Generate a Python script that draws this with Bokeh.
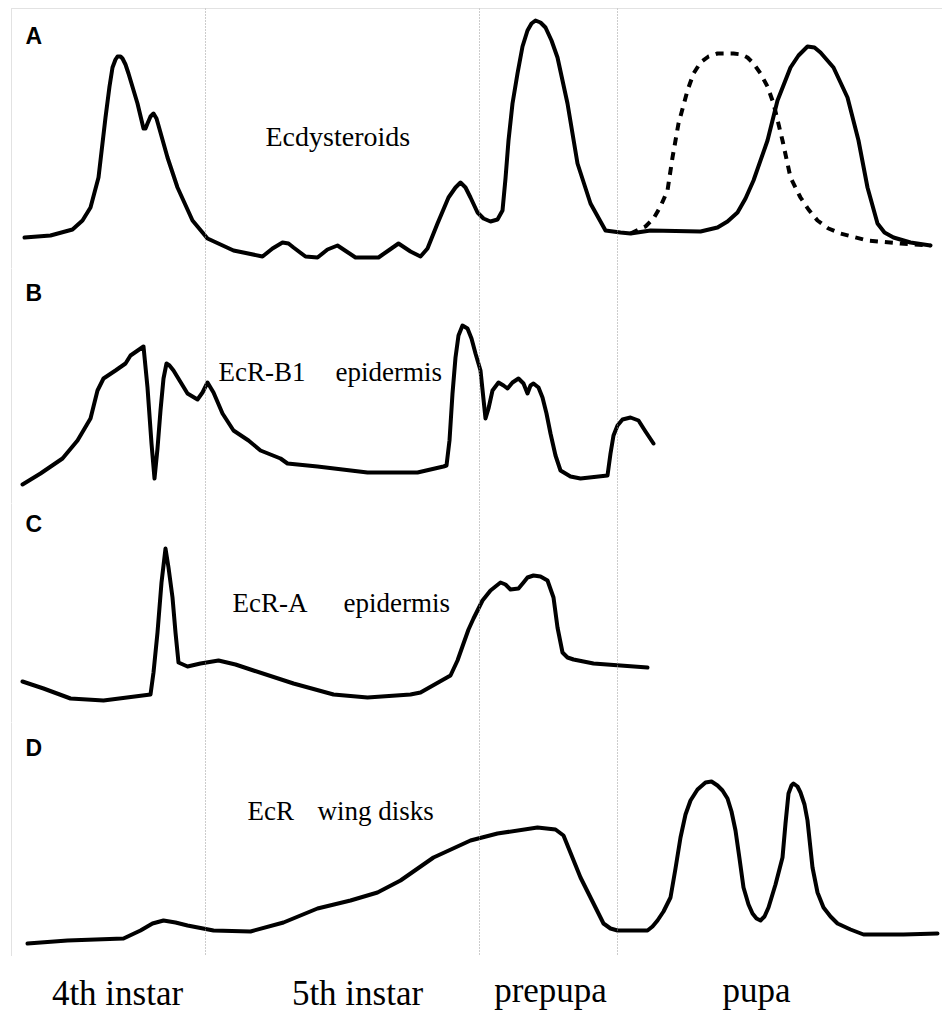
from bokeh.plotting import figure
from bokeh.layouts import column
from bokeh.models import Range1d, Span
from bokeh.core.properties import value
from bokeh.embed import file_html
from bokeh.resources import INLINE

# ---------------- data (time axis in arbitrary units, levels in arbitrary units) ----------------
stage_bounds = [205, 479, 617]
stage_names = ["4th instar", "5th instar", "prepupa", "pupa"]
stage_label_x = [117, 357, 550, 756]

panel_letters = ["A", "B", "C", "D"]

# A: ecdysteroid titre (solid) and second pupal titre (dashed)
ecd_x = [24, 50, 72, 82, 90, 98, 105, 109, 112, 115, 117, 120, 122, 125, 128, 137, 143, 145, 147,
         150, 153, 156, 158, 167, 177, 192, 207, 233, 262, 272, 282, 288, 293, 305, 317, 327, 337,
         346, 355, 378, 388, 398, 410, 420, 427, 437, 448, 455, 460, 465, 470, 477, 483, 490, 497,
         502, 505, 508, 512, 517, 522, 527, 531, 535, 540, 545, 551, 557, 567, 577, 590, 605, 620,
         630, 650, 700, 717, 727, 737, 745, 753, 767, 777, 790, 798, 807, 814, 820, 833, 847, 858,
         867, 877, 884, 893, 910, 930]
ecd_y = [31, 33, 39, 48, 61, 91, 151, 182, 201, 209, 212, 212, 210, 204, 195, 165, 140, 140, 145,
         152, 155, 150, 143, 111, 81, 48, 30, 18, 12, 20, 26, 25, 21, 12, 11, 19, 23,
         17, 11, 11, 18, 25, 17, 12, 20, 45, 71, 81, 86, 81, 71, 56, 50, 47, 49,
         58, 90, 128, 165, 195, 222, 238, 245, 248, 246, 241, 228, 211, 165, 105, 65, 38, 36,
         35, 38, 37, 41, 47, 56, 70, 88, 128, 168, 201, 213, 222, 221, 216, 201, 171, 128,
         81, 45, 36, 31, 26, 23]
ecd_alt_x = [630, 645, 653, 660, 667, 672, 678, 687, 693, 700, 708, 717, 733, 741, 747, 753, 760,
             767, 773, 782, 790, 800, 808, 817, 828, 840, 867, 900, 930]
ecd_alt_y = [35, 42, 50, 62, 78, 111, 145, 178, 195, 206, 212, 215, 215, 214, 211, 205, 195,
             182, 165, 128, 91, 71, 59, 48, 40, 35, 28, 25, 23]

# B: EcR-B1 in epidermis
ecrb1_x = [22, 40, 62, 77, 90, 97, 103, 115, 125, 130, 143, 147, 151, 154, 157, 160, 163, 166, 169,
           173, 187, 197, 202, 207, 213, 222, 233, 248, 260, 280, 287, 317, 367, 417, 443, 446, 449,
           452, 455, 458, 462, 467, 471, 475, 480, 485, 488, 492, 498, 503, 507, 512, 518, 523, 527,
           530, 533, 538, 542, 546, 550, 555, 560, 570, 580, 607, 610, 613, 617, 622, 630, 638, 645,
           653]
ecrb1_y = [19, 30, 45, 63, 85, 113, 125, 133, 140, 148, 157, 116, 60, 25, 55, 93, 125, 140, 138,
           133, 110, 104, 111, 121, 111, 90, 73, 63, 53, 45, 40, 37, 31, 31, 37, 38, 63,
           110, 146, 168, 178, 175, 165, 150, 133, 85, 95, 113, 121, 118, 115, 121, 125, 120, 110,
           118, 120, 116, 106, 90, 70, 48, 33, 27, 25, 28, 50, 68, 78, 84, 86, 83, 72,
           60]

# C: EcR-A in epidermis
ecra_x = [22, 43, 70, 103, 150, 153, 157, 161, 165, 168, 172, 175, 178, 187, 200, 218, 235, 253,
          293, 333, 367, 410, 420, 450, 457, 463, 468, 473, 482, 490, 500, 505, 510, 518, 523, 527,
          533, 540, 547, 553, 557, 562, 567, 573, 593, 620, 647]
ecra_y = [41, 34, 24, 22, 28, 50, 90, 140, 174, 155, 125, 90, 60, 56, 59, 62, 58, 52,
          39, 28, 25, 28, 30, 47, 62, 79, 93, 104, 122, 132, 140, 138, 133, 134, 140, 145,
          147, 146, 142, 125, 95, 70, 65, 63, 59, 57, 55]

# D: EcR in wing disks
wing_x = [27, 67, 123, 140, 152, 163, 175, 187, 213, 250, 283, 317, 350, 377, 400, 433, 470, 497,
          537, 555, 563, 580, 603, 610, 617, 647, 652, 657, 663, 670, 675, 680, 685, 690, 697, 705,
          711, 717, 722, 727, 731, 735, 739, 743, 748, 752, 756, 760, 764, 768, 775, 782, 785, 788,
          791, 793, 797, 800, 804, 807, 812, 817, 823, 830, 837, 850, 863, 903, 937]
wing_y = [13, 16, 18, 26, 33, 36, 34, 31, 26, 25, 34, 48, 56, 64, 76, 99, 116, 123,
          129, 127, 121, 79, 33, 28, 26, 26, 30, 36, 45, 59, 88, 119, 142, 156, 167, 174,
          175, 171, 166, 158, 145, 126, 98, 69, 52, 43, 38, 36, 40, 49, 72, 99, 133, 163,
          171, 173, 170, 164, 152, 136, 89, 64, 49, 40, 33, 27, 22, 22, 23]

# ---------------- layout ----------------
W = 942
X0, X1 = 11, 942
xr = Range1d(X0, X1)
GRID = "#8a8a8a"
SERIF = value("Liberation Serif")
SANS = value("Liberation Sans")


def panel(h, top_pad=0):
    p = figure(width=W, height=h + top_pad, x_range=xr, y_range=Range1d(0, h),
               output_backend="svg", toolbar_location=None,
               x_axis_location=None, y_axis_location=None,
               min_border_left=X0, min_border_right=0,
               min_border_top=top_pad, min_border_bottom=0)
    p.grid.visible = False
    p.outline_line_color = None
    p.background_fill_color = "white"
    p.border_fill_color = "white"
    p.add_layout(Span(location=0, dimension="width", line_color=GRID,
                      line_width=1, line_dash="1 1"))
    if top_pad:
        p.add_layout(Span(location=h, dimension="width", line_color=GRID,
                          line_width=1, line_dash="1 1"))
    p.add_layout(Span(location=X0, dimension="height", line_color=GRID,
                      line_width=1, line_dash="1 1"))
    for b in stage_bounds:
        p.add_layout(Span(location=b, dimension="height", line_color="#999999",
                          line_width=1, line_dash="1 2"))
    return p


def letter(p, t, y):
    p.text(x=[25], y=[y], text=[t], text_font=SANS, text_font_style="bold",
           text_font_size="23px", text_color="black", text_baseline="alphabetic")


def label(p, xs, y, texts, size="27px"):
    p.text(x=xs, y=[y] * len(xs), text=texts, text_font=SERIF,
           text_font_size=size, text_color="black", text_baseline="alphabetic")


LW = 4
LINE = dict(line_color="black", line_width=LW, line_join="round", line_cap="round")

pA = panel(260, top_pad=8)
pA.line(ecd_alt_x, ecd_alt_y, line_color="black", line_width=LW, line_dash="8 7")
pA.line(ecd_x, ecd_y, **LINE)
letter(pA, panel_letters[0], 233)
label(pA, [265], 132, ["Ecdysteroids"], size="28px")

pB = panel(235)
pB.line(ecrb1_x, ecrb1_y, **LINE)
letter(pB, panel_letters[1], 211)
label(pB, [218, 335], 132, ["EcR-B1", "epidermis"])

pC = panel(219)
pC.line(ecra_x, ecra_y, **LINE)
letter(pC, panel_letters[2], 199)
label(pC, [232, 343], 120, ["EcR-A", "epidermis"])

pD = panel(234)
pD.line(wing_x, wing_y, **LINE)
letter(pD, panel_letters[3], 209)
label(pD, [247, 317], 146, ["EcR", "wing disks"])

LH = 58
pL = figure(width=W, height=LH, x_range=xr, y_range=Range1d(0, LH),
            output_backend="svg", toolbar_location=None,
            x_axis_location=None, y_axis_location=None,
            min_border_left=X0, min_border_right=0,
            min_border_top=0, min_border_bottom=0)
pL.grid.visible = False
pL.outline_line_color = None
pL.text(x=stage_label_x, y=[21, 21, 24, 24], text=stage_names, text_font=SERIF,
        text_font_size="35px", text_color="black", text_align="center",
        text_baseline="alphabetic")

layout = column(pA, pB, pC, pD, pL, spacing=0)
open("out.html", "w").write(file_html(layout, INLINE))
